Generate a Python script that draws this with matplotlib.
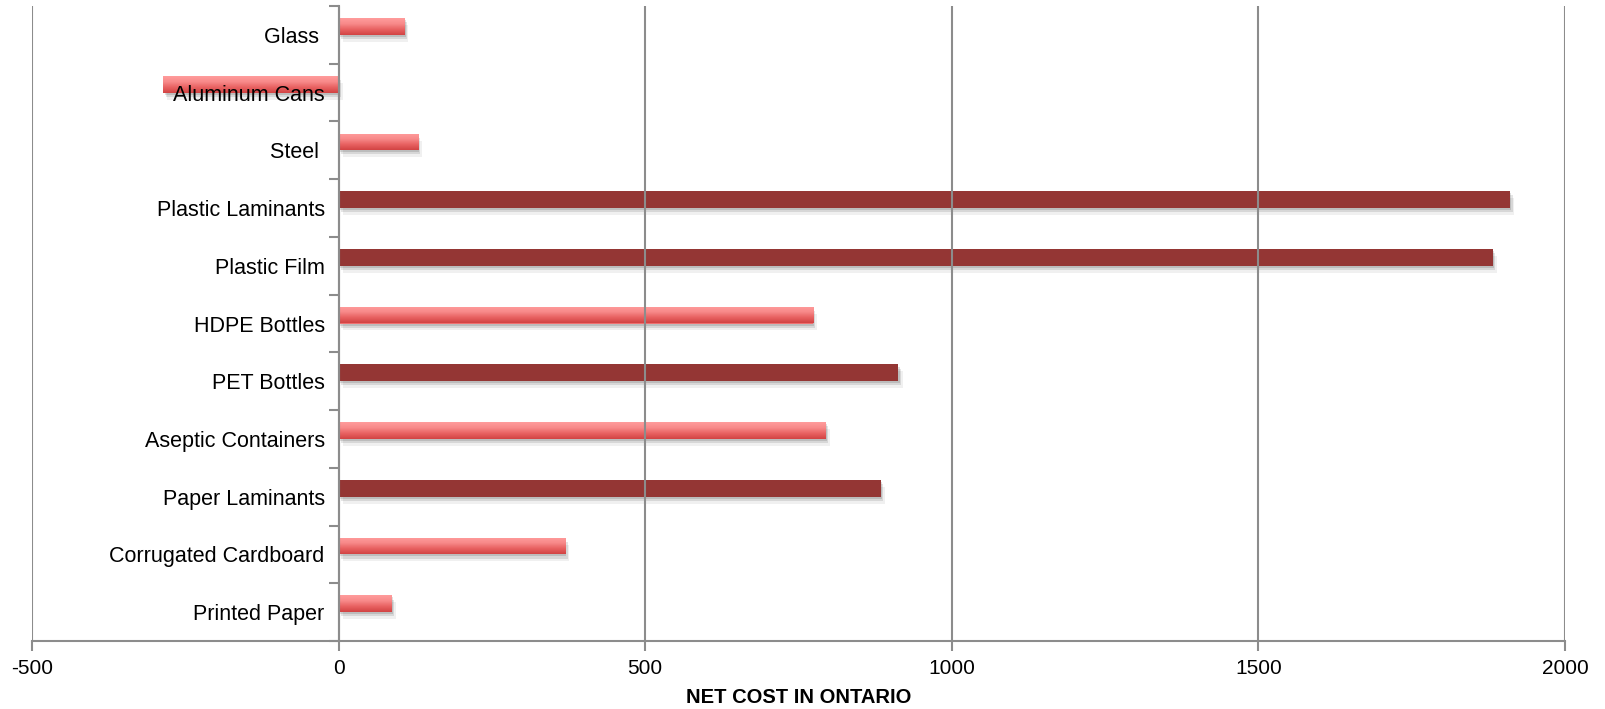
import matplotlib
matplotlib.use("Agg")
import matplotlib.pyplot as plt
import matplotlib.patheffects as pe
from matplotlib.colors import LinearSegmentedColormap
import numpy as np

plt.rcParams['font.family'] = ['Liberation Sans', 'DejaVu Sans']
plt.rcParams['axes.unicode_minus'] = False

categories = ["Glass ", "Aluminum Cans", "Steel ", "Plastic Laminants", "Plastic Film",
              "HDPE Bottles", "PET Bottles", "Aseptic Containers", "Paper Laminants",
              "Corrugated Cardboard", "Printed Paper"]
net_cost = [107, -286, 129, 1910, 1882, 773, 913, 794, 884, 369, 86]
dark_items = ["Plastic Laminants", "Plastic Film", "PET Bottles", "Paper Laminants"]
x_ticks = [-500, 0, 500, 1000, 1500, 2000]

pink = LinearSegmentedColormap.from_list("pink", ["#ff9c9c", "#f88a8a", "#e86262", "#d24343"])
grad = np.linspace(0, 1, 64).reshape(-1, 1)

fig = plt.figure(figsize=(16.05, 7.09), dpi=100)
ax = fig.add_axes([32 / 1605, 68 / 709, 1533 / 1605, 635 / 709])

ypos = np.arange(len(categories))
bar_h = 0.29
for i, (cat, val) in enumerate(zip(categories, net_cost)):
    yc = i - bar_h / 2
    shadow = [pe.SimplePatchShadow(offset=(3, -5), shadow_rgbFace='#000000', alpha=0.06),
              pe.SimplePatchShadow(offset=(2, -3), shadow_rgbFace='#000000', alpha=0.10),
              pe.SimplePatchShadow(offset=(1, -1.5), shadow_rgbFace='#000000', alpha=0.12),
              pe.Normal()]
    if cat in dark_items:
        b = ax.barh(yc, val, height=bar_h, color="#943634", zorder=1)
        b[0].set_path_effects(shadow)
    else:
        b = ax.barh(yc, val, height=bar_h, color="#f07070", zorder=1)
        b[0].set_path_effects(shadow)
        x0, x1 = min(0, val), max(0, val)
        im = ax.imshow(grad, cmap=pink, aspect='auto', extent=(x0, x1, yc + bar_h / 2, yc - bar_h / 2),
                       zorder=1.1, interpolation='bilinear')
        im.set_clip_path(b[0])

ax.set_xlim(-500, 2000)
ax.set_ylim(len(categories) - 0.5, -0.5)

ax.set_xticks(x_ticks)
ax.set_yticks(ypos)
ax.set_yticklabels(categories)
ax.set_yticks(np.arange(len(categories) + 1) - 0.5, minor=True)
ax.tick_params(axis='y', which='major', length=0, pad=10, labelsize=15.5)
ax.tick_params(axis='y', which='minor', length=7, width=1.5, color='#8c8c8c', direction='out')
ax.tick_params(axis='x', length=7, width=1.5, color='#8c8c8c', labelsize=15, pad=6)

ax.spines['left'].set_position(('data', 0))
for s in ['top', 'right']:
    ax.spines[s].set_visible(False)
for s in ['left', 'bottom']:
    ax.spines[s].set_color('#8c8c8c')
    ax.spines[s].set_linewidth(1.5)

ax.grid(axis='x', color='#8c8c8c', linewidth=1.5)
ax.set_axisbelow(False)

ax.set_xlabel("NET COST IN ONTARIO", fontsize=14.5, fontweight='bold', labelpad=7)

fig.savefig("out.png", dpi=100)
